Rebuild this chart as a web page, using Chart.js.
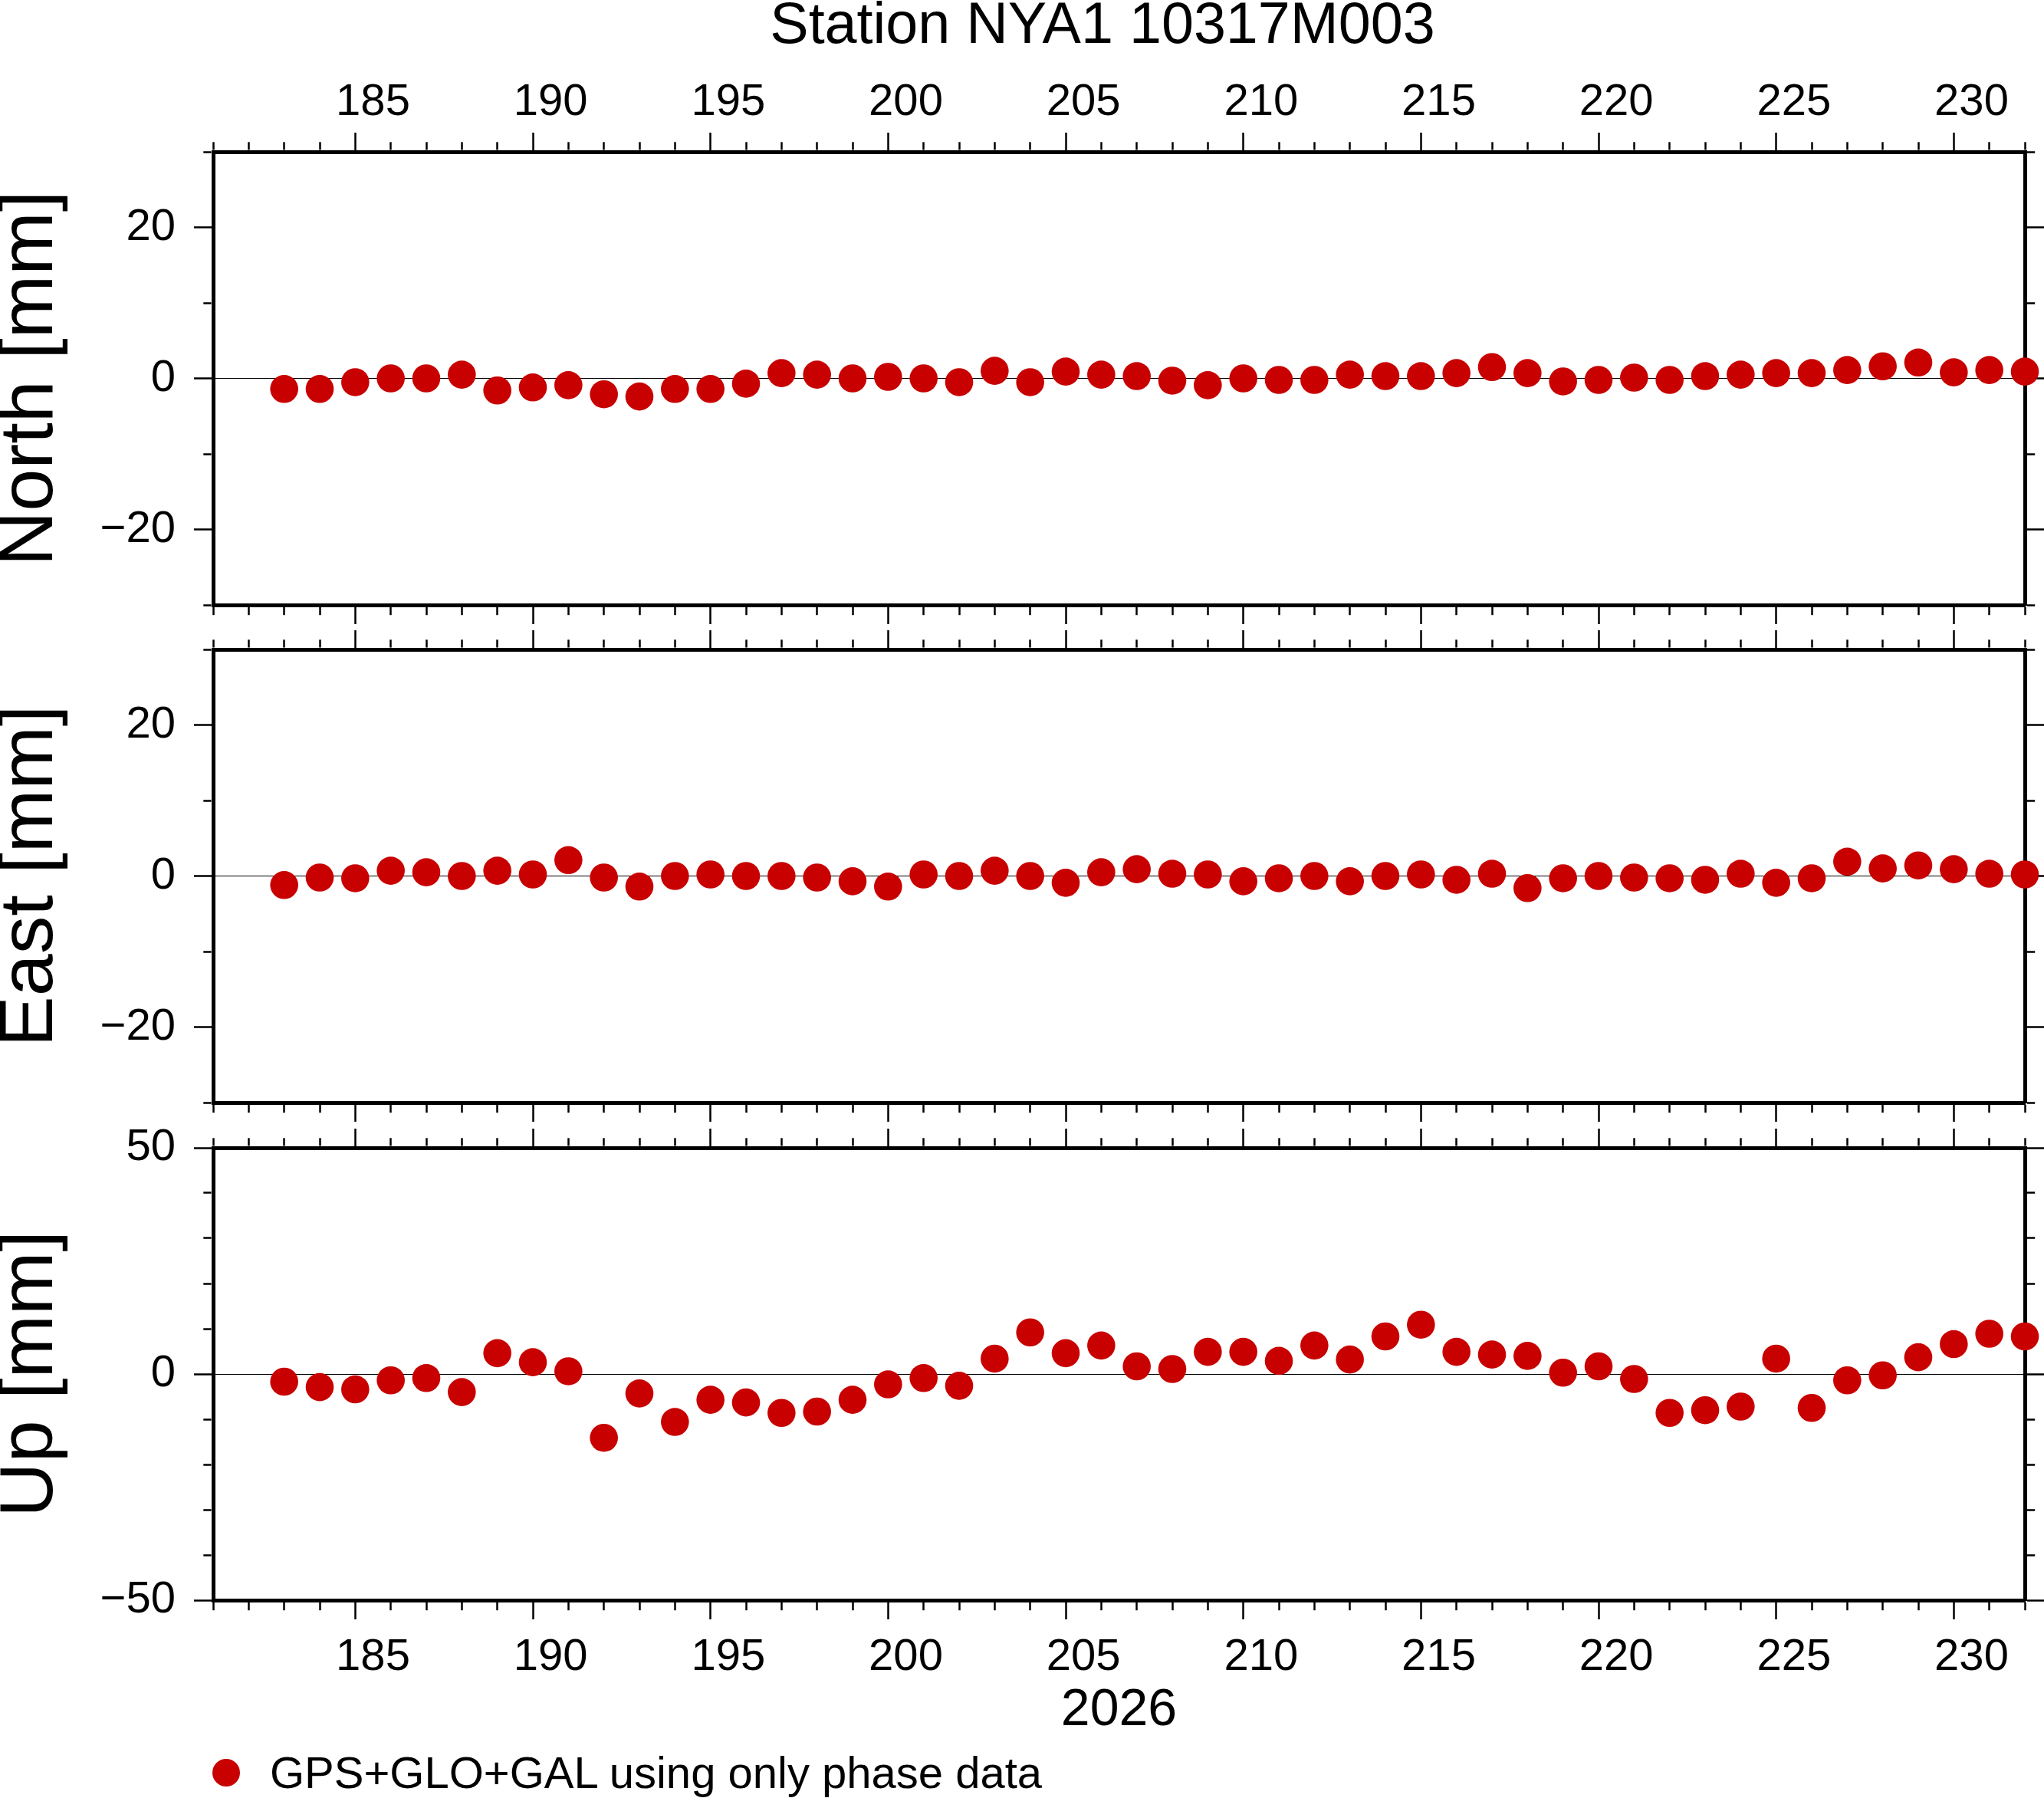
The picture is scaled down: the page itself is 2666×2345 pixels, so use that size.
<!DOCTYPE html>
<html>
<head>
<meta charset="utf-8">
<title>Station NYA1 10317M003</title>
<script src="https://cdn.jsdelivr.net/npm/chart.js@4.4.1/dist/chart.umd.min.js"></script>
<style>
  html, body { margin: 0; padding: 0; background: #fff; }
  body {
    width: 2666px; height: 2345px; position: relative; overflow: hidden;
    font-family: 'Liberation Sans', Arial, Helvetica, sans-serif; color: #000;
  }
  canvas { position: absolute; left: 0; }
  #title {
    position: absolute; left: 1438px; top: -8px; transform: translateX(-50%);
    font-size: 75.5px; line-height: 77px; white-space: nowrap;
  }
  #legend {
    position: absolute; left: 277px; top: 2283px; height: 58px;
    display: flex; align-items: center; font-size: 58px; line-height: 58px; white-space: nowrap;
  }
  #legend .dot { width: 36px; height: 36px; border-radius: 50%; margin-right: 39px; }
</style>
</head>
<body>
<div id="title">Station NYA1 10317M003</div>
<canvas id="north" width="2666" height="814" style="top:0px"></canvas>
<canvas id="east" width="2666" height="641" style="top:822px"></canvas>
<canvas id="up" width="2666" height="788" style="top:1472px"></canvas>
<div id="legend"></div>
<script>
// day of year 2026
const days = [183, 184, 185, 186, 187, 188, 189, 190, 191, 192,
              193, 194, 195, 196, 197, 198, 199, 200, 201, 202,
              203, 204, 205, 206, 207, 208, 209, 210, 211, 212,
              213, 214, 215, 216, 217, 218, 219, 220, 221, 222,
              223, 224, 225, 226, 227, 228, 229, 230, 231, 232];

// residuals in mm
const north = [-1.4, -1.4, -0.5, 0.0, 0.0, 0.5, -1.6, -1.2, -0.9, -2.1,
               -2.4, -1.4, -1.4, -0.7, 0.7, 0.5, 0.0, 0.2, 0.0, -0.5,
               1.0, -0.5, 0.9, 0.5, 0.3, -0.3, -0.9, 0.0, -0.2, -0.2,
               0.5, 0.3, 0.3, 0.7, 1.5, 0.7, -0.4, -0.2, 0.1, -0.2,
               0.3, 0.5, 0.7, 0.7, 1.1, 1.6, 2.1, 0.8, 1.1, 0.9];
const east = [-1.2, -0.2, -0.3, 0.7, 0.5, 0.0, 0.7, 0.2, 2.1, -0.2,
              -1.4, 0.0, 0.2, 0.0, 0.0, -0.2, -0.7, -1.4, 0.2, 0.0,
              0.7, 0.0, -0.9, 0.5, 0.9, 0.3, 0.2, -0.7, -0.3, 0.0,
              -0.7, 0.0, 0.2, -0.5, 0.3, -1.6, -0.3, 0.0, -0.2, -0.3,
              -0.5, 0.3, -0.9, -0.3, 1.9, 1.0, 1.4, 0.9, 0.3, 0.2];
const up = [-1.7, -2.9, -3.4, -1.4, -0.9, -4.0, 4.6, 2.6, 0.6, -14.1,
            -4.3, -10.6, -5.7, -6.3, -8.6, -8.3, -5.7, -2.3, -0.9, -2.6,
            3.4, 9.2, 4.6, 6.3, 1.7, 1.1, 4.9, 4.9, 2.9, 6.3,
            3.2, 8.3, 10.9, 4.9, 4.3, 4.0, 0.3, 1.7, -1.1, -8.6,
            -8.0, -7.2, 3.4, -7.5, -1.4, -0.3, 3.7, 6.6, 8.9, 8.3];

// annotated ticks
const xTickLabels = [185, 190, 195, 200, 205, 210, 215, 220, 225, 230];
const northTicks = [-20, 0, 20];
const eastTicks = [-20, 0, 20];
const upTicks = [-50, 0, 50];

const seriesLabel = 'GPS+GLO+GAL using only phase data';
const dotColor = '#c80000';

Chart.defaults.font.family = "'Liberation Sans', Arial, Helvetica, sans-serif";
Chart.defaults.color = '#000';

const FRAME = 5;     // frame line width
const TICK = 25;     // major tick length
const MINOR = 12.7;  // minor tick length
const LEFT_W = 278, RIGHT_W = 25;
const XMIN = 181, XMAX = 232;
const dayPx = (2666 - LEFT_W - RIGHT_W) / (XMAX - XMIN);

// tick marks: minor ones are cut short with a dash pattern
function tickMarks(isMajor, outerFirst) {
  const on = MINOR - FRAME / 2;
  const minor = (c) => c.tick && !isMajor(c.tick.value);
  return {
    drawOnChartArea: false,
    tickLength: TICK,
    tickWidth: 2.5,
    tickColor: '#000',
    tickBorderDash: (c) => minor(c) ? [on, 1000] : [],
    tickBorderDashOffset: (c) => (minor(c) && outerFirst) ? on + 1000 - (TICK - MINOR) : 0
  };
}

const frame = { display: true, width: FRAME, color: '#000' };

function fmt(v) {
  return v < 0 ? '\u2212' + (-v) : String(v);
}

// fixed box sizes, and no extra room for overhanging labels
function fixSize(s, w, h) {
  if (w !== undefined) s.width = w;
  if (h !== undefined) s.height = h;
  s.paddingLeft = s.paddingRight = s.paddingTop = s.paddingBottom = 0;
}

function xAxis(position, o) {
  return {
    type: 'linear',
    position: position,
    min: XMIN,
    max: XMAX,
    border: frame,
    grid: tickMarks(v => v % 5 === 0, position === 'top'),
    ticks: {
      display: !!o.labels,
      stepSize: 1,
      maxTicksLimit: 100,
      autoSkip: false,
      maxRotation: 0,
      minRotation: 0,
      labelOffset: dayPx / 2,
      padding: o.pad || 0,
      font: { size: 58, lineHeight: 1 },
      callback: v => xTickLabels.includes(v) ? String(v) : ''
    },
    title: o.title ? { display: true, text: o.title, font: { size: 68, lineHeight: 0.85 }, padding: 0 } : { display: false },
    afterFit: s => fixSize(s, undefined, o.height)
  };
}

function yAxis(position, min, max, labels, title) {
  const isMajor = v => labels.includes(v);
  const left = position === 'left';
  const grid = tickMarks(isMajor, left);
  if (left) {
    grid.drawOnChartArea = true;
    grid.color = c => (c.tick && c.tick.value === 0) ? '#000' : 'rgba(0,0,0,0)';
    grid.lineWidth = 1;
  }
  return {
    type: 'linear',
    position: position,
    min: min,
    max: max,
    border: frame,
    grid: grid,
    ticks: {
      display: left,
      stepSize: 10,
      maxTicksLimit: 100,
      autoSkip: false,
      padding: 24,
      font: { size: 58, lineHeight: 1 },
      callback: v => isMajor(v) ? fmt(v) : ''
    },
    title: left ? { display: true, text: title, font: { size: 99, lineHeight: 0.82 }, padding: 0 } : { display: false },
    afterFit: s => fixSize(s, left ? LEFT_W : RIGHT_W)
  };
}

function panel(id, values, yMin, yMax, yLabels, yTitle, top, bottom) {
  return new Chart(document.getElementById(id), {
    type: 'scatter',
    data: {
      datasets: [{
        label: seriesLabel,
        data: days.map((d, i) => ({ x: d, y: values[i] })),
        backgroundColor: dotColor,
        borderWidth: 0,
        pointRadius: 18.3,
        pointHoverRadius: 18.3,
        clip: false
      }]
    },
    options: {
      responsive: false,
      animation: false,
      devicePixelRatio: 1,
      events: [],
      layout: { padding: 0, autoPadding: false },
      plugins: { legend: { display: false }, tooltip: { enabled: false } },
      scales: {
        x: xAxis('bottom', bottom),
        xTop: xAxis('top', top),
        y: yAxis('left', yMin, yMax, yLabels, yTitle),
        yRight: yAxis('right', yMin, yMax, yLabels)
      }
    }
  });
}

panel('north', north, -30, 30, northTicks, 'North [mm]',
  { labels: true, pad: 10.5, height: 198 }, { height: 25 });
panel('east', east, -30, 30, eastTicks, 'East [mm]',
  { height: 25 }, { height: 25 });
const upChart = panel('up', up, -50, 50, upTicks, 'Up [mm]',
  { height: 25 }, { labels: true, pad: 21, height: 173, title: '2026' });

// legend below the plots, built from the dataset
const legend = document.getElementById('legend');
upChart.data.datasets.forEach(ds => {
  const dot = document.createElement('span');
  dot.className = 'dot';
  dot.style.background = ds.backgroundColor;
  const text = document.createElement('span');
  text.textContent = ds.label;
  legend.appendChild(dot);
  legend.appendChild(text);
});
</script>
</body>
</html>
